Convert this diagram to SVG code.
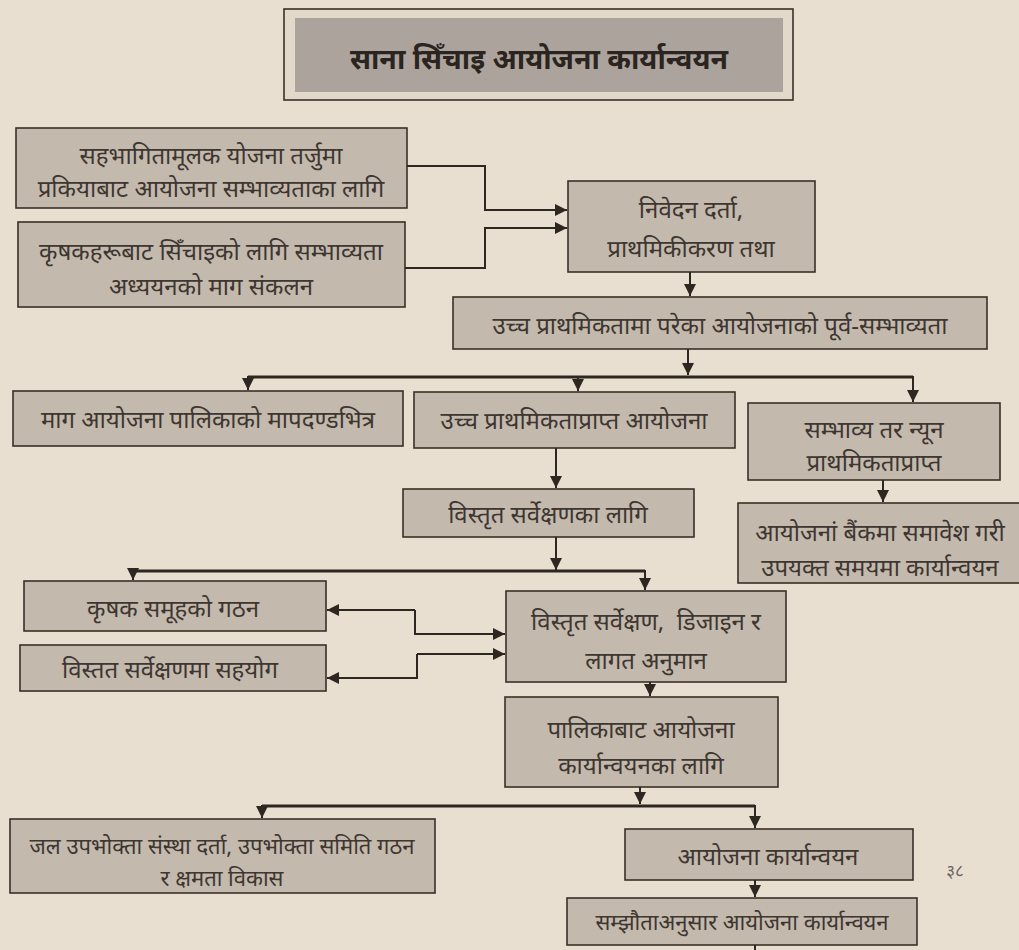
<svg xmlns="http://www.w3.org/2000/svg" width="1019" height="950" viewBox="0 0 1019 950">
<style>
.bx{fill:#c4b9ad;stroke:#3b3029;stroke-width:1.6}
.t{font-family:"Noto Sans","DejaVu Sans",sans-serif;font-size:24px;fill:#3d3631;text-anchor:middle;dominant-baseline:central}
.s{font-size:22px}
.ln{fill:none;stroke:#2e2620;stroke-width:2}
.bus{fill:none;stroke:#2e2620;stroke-width:2.8}
</style>
<defs>
<marker id="ah" viewBox="0 0 10 10" refX="10" refY="5" markerWidth="12" markerHeight="12" markerUnits="userSpaceOnUse" orient="auto">
<path d="M0,0 L10,5 L0,10 z" fill="#2e2620"/>
</marker>
</defs>
<rect width="1019" height="950" fill="#e8dfd1"/>

<g id="title">
<rect x="284" y="9" width="509" height="91" fill="#e3d9cb" stroke="#3b3029" stroke-width="1.6"/>
<rect x="295" y="18" width="488" height="74" fill="#aca49c"/>
<text x="539" y="58" class="t" style="font-size:28.5px;font-weight:bold;fill:#2b2420">साना सिँचाइ आयोजना कार्यान्वयन</text>
</g>

<g id="nodeA"><rect class="bx" x="16" y="128" width="391" height="80"/>
<text class="t" x="211" y="154">सहभागितामूलक योजना तर्जुमा</text>
<text class="t" x="211" y="187">प्रकियाबाट आयोजना सम्भाव्यताका लागि</text></g>

<g id="nodeB"><rect class="bx" x="18" y="222" width="387" height="85"/>
<text class="t" x="211" y="250">कृषकहरूबाट सिँचाइको लागि सम्भाव्यता</text>
<text class="t" x="211" y="285">अध्ययनको माग संकलन</text></g>

<g id="nodeC"><rect class="bx" x="568" y="181" width="247" height="91"/>
<text class="t" x="691" y="208">निवेदन दर्ता,</text>
<text class="t" x="691" y="247">प्राथमिकीकरण तथा</text></g>

<g id="nodeD"><rect class="bx" x="453" y="297" width="534" height="52"/>
<text class="t" x="720" y="324">उच्च प्राथमिकतामा परेका आयोजनाको पूर्व-सम्भाव्यता</text></g>

<g id="nodeE"><rect class="bx" x="13" y="391" width="390" height="55"/>
<text class="t" x="208" y="418">माग आयोजना पालिकाको मापदण्डभित्र</text></g>

<g id="nodeF"><rect class="bx" x="414" y="392" width="321" height="56"/>
<text class="t" x="574" y="419">उच्च प्राथमिकताप्राप्त आयोजना</text></g>

<g id="nodeG"><rect class="bx" x="748" y="403" width="252" height="77"/>
<text class="t" x="874" y="428">सम्भाव्य तर न्यून</text>
<text class="t" x="874" y="461">प्राथमिकताप्राप्त</text></g>

<g id="nodeH"><rect class="bx" x="738" y="503" width="290" height="80"/>
<text class="t" x="880" y="531">आयोजनां बैंकमा समावेश गरी</text>
<text class="t" x="880" y="566">उपयक्त समयमा कार्यान्वयन</text></g>

<g id="nodeI"><rect class="bx" x="403" y="489" width="291" height="48"/>
<text class="t" x="548" y="513">विस्तृत सर्वेक्षणका लागि</text></g>

<g id="nodeJ"><rect class="bx" x="24" y="581" width="302" height="50"/>
<text class="t" x="173" y="607">कृषक समूहको गठन</text></g>

<g id="nodeL"><rect class="bx" x="20" y="645" width="306" height="46"/>
<text class="t" x="170" y="668">विस्तत सर्वेक्षणमा सहयोग</text></g>

<g id="nodeK"><rect class="bx" x="506" y="591" width="280" height="91"/>
<text class="t" x="646" y="620" xml:space="preserve">विस्तृत सर्वेक्षण,  डिजाइन र</text>
<text class="t" x="646" y="659">लागत अनुमान</text></g>

<g id="nodeM"><rect class="bx" x="505" y="697" width="273" height="90"/>
<text class="t" x="641" y="728">पालिकाबाट आयोजना</text>
<text class="t" x="641" y="764">कार्यान्वयनका लागि</text></g>

<g id="nodeN"><rect class="bx" x="10" y="819" width="425" height="74"/>
<text class="t s" x="222" y="845">जल उपभोक्ता संस्था दर्ता, उपभोक्ता समिति गठन</text>
<text class="t s" x="222" y="877">र क्षमता विकास</text></g>

<g id="nodeO"><rect class="bx" x="625" y="829" width="288" height="51"/>
<text class="t" x="768" y="855">आयोजना कार्यान्वयन</text></g>

<g id="nodeP"><rect class="bx" x="567" y="898" width="350" height="47"/>
<text class="t s" x="742" y="921">सम्झौताअनुसार आयोजना कार्यान्वयन</text></g>

<text x="955" y="870" style="font-family:'Noto Sans','DejaVu Sans',sans-serif;font-size:17px;fill:#6b635b" text-anchor="middle" dominant-baseline="central">३८</text>

<g id="connectors">
<path class="ln" d="M407,166 H485 V210 H567" marker-end="url(#ah)"/>
<path class="ln" d="M405,268 H485 V228 H567" marker-end="url(#ah)"/>
<path class="ln" d="M690,272 V296" marker-end="url(#ah)"/>
<path class="ln" d="M688,349 V375" marker-end="url(#ah)"/>
<path class="bus" d="M248,377 H913"/>
<path class="ln" d="M248,376 V390" marker-end="url(#ah)"/>
<path class="ln" d="M578,376 V391" marker-end="url(#ah)"/>
<path class="ln" d="M913,376 V402" marker-end="url(#ah)"/>
<path class="ln" d="M883,480 V502" marker-end="url(#ah)"/>
<path class="ln" d="M556,448 V488" marker-end="url(#ah)"/>
<path class="ln" d="M556,537 V570" marker-end="url(#ah)"/>
<path class="bus" d="M133,571 H645"/>
<path class="ln" d="M133,570 V580" marker-end="url(#ah)"/>
<path class="ln" d="M645,570 V590" marker-end="url(#ah)"/>
<path class="ln" d="M415,610 H327" marker-end="url(#ah)"/>
<path class="ln" d="M415,610 V634 H505" marker-end="url(#ah)"/>
<path class="ln" d="M417,654 H505" marker-end="url(#ah)"/>
<path class="ln" d="M417,654 V678 H327" marker-end="url(#ah)"/>
<path class="ln" d="M650,682 V696" marker-end="url(#ah)"/>
<path class="ln" d="M640,787 V804" marker-end="url(#ah)"/>
<path class="bus" d="M262,806 H755"/>
<path class="ln" d="M262,805 V818" marker-end="url(#ah)"/>
<path class="ln" d="M755,805 V828" marker-end="url(#ah)"/>
<path class="ln" d="M755,880 V897" marker-end="url(#ah)"/>
<path class="ln" d="M755,945 V950"/>
</g>
</svg>
